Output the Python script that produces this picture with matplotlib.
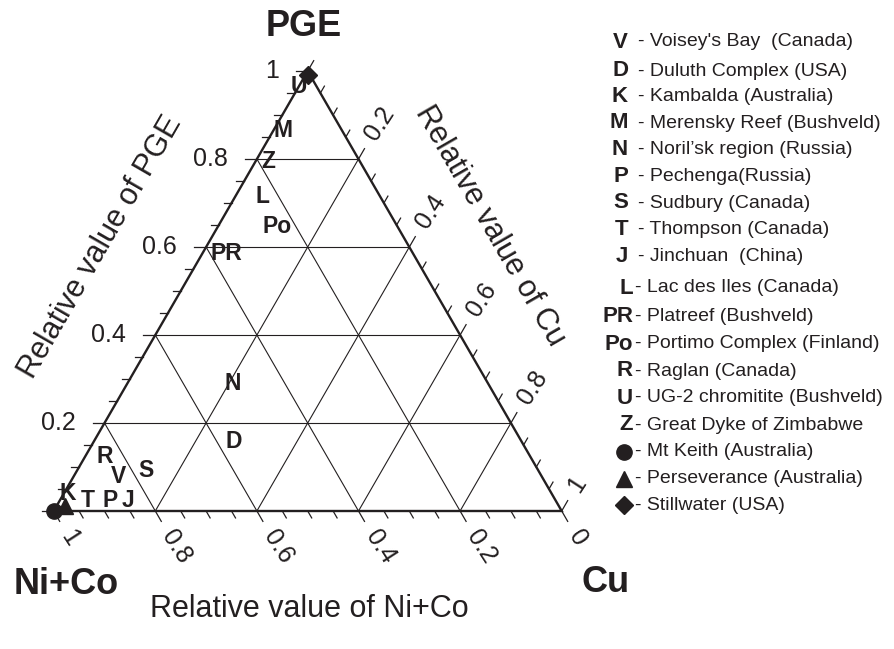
import numpy as np
import matplotlib
matplotlib.use("Agg")
import matplotlib.pyplot as plt

plt.rcParams['font.family'] = ['Liberation Sans', 'DejaVu Sans']

# ---------------- data (ternary: Cu, PGE; Ni+Co = 1 - Cu - PGE) ----------------
letters = ["U", "M", "Z", "L", "Po", "PR", "N", "D", "R", "V", "S", "K", "T", "P", "J"]
letter_cu = [0.000, 0.018, 0.024, 0.054, 0.116, 0.047, 0.207, 0.275, 0.039, 0.088, 0.136, 0.008, 0.054, 0.098, 0.134]
letter_pge = [0.964, 0.866, 0.795, 0.716, 0.646, 0.586, 0.290, 0.159, 0.123, 0.078, 0.093, 0.039, 0.025, 0.025, 0.025]

marker_names = ["Mt Keith", "Perseverance", "Stillwater"]
marker_symbols = ["o", "^", "D"]
marker_cu = [0.000, 0.017, 0.005]
marker_pge = [0.000, 0.011, 0.990]

legend_keys = ["V", "D", "K", "M", "N", "P", "S", "T", "J",
               "L", "PR", "Po", "R", "U", "Z", "o", "^", "D"]
legend_texts = ["- Voisey's Bay  (Canada)", "- Duluth Complex (USA)", "- Kambalda (Australia)",
                "- Merensky Reef (Bushveld)", "- Noril\u2019sk region (Russia)", "- Pechenga(Russia)",
                "- Sudbury (Canada)", "- Thompson (Canada)", "- Jinchuan  (China)",
                "- Lac des Iles (Canada)", "- Platreef (Bushveld)", "- Portimo Complex (Finland)",
                "- Raglan (Canada)", "- UG-2 chromitite (Bushveld)", "- Great Dyke of Zimbabwe",
                "- Mt Keith (Australia)", "- Perseverance (Australia)", "- Stillwater (USA)"]

grid_values = [0.2, 0.4, 0.6, 0.8]
tick_values = np.round(np.arange(0, 1.0001, 0.05), 2)
major_labels = [0.0, 0.2, 0.4, 0.6, 0.8, 1.0]

# ---------------- geometry ----------------
W, H = 894, 649
S = 508.0              # triangle side in pixels
X0, Y0 = 53.7, 511.0   # Ni+Co vertex in pixels
h = np.sqrt(3) / 2


def tern(cu, pge):
    cu = np.asarray(cu, float)
    pge = np.asarray(pge, float)
    return cu + pge / 2.0, pge * h


fig = plt.figure(figsize=(W / 100, H / 100), dpi=100)
ax = fig.add_axes([0, 0, 1, 1])
ax.set_xlim(-X0 / S, (W - X0) / S)
ax.set_ylim((Y0 - H) / S, Y0 / S)
ax.axis('off')

px = 1.0 / S  # one pixel in data units
col = '#231f20'

# grid lines
for v in grid_values:
    x, y = tern([0, 1 - v], [v, v])          # constant PGE
    ax.plot(x, y, color=col, lw=0.8, zorder=1)
    x, y = tern([v, v], [0, 1 - v])          # constant Cu
    ax.plot(x, y, color=col, lw=0.8, zorder=1)
    x, y = tern([1 - v, 0], [0, 1 - v])      # constant Ni+Co
    ax.plot(x, y, color=col, lw=0.8, zorder=1)

# triangle outline
x, y = tern([0, 1, 0, 0], [0, 0, 1, 0])
ax.plot(x, y, color=col, lw=1.7, zorder=2, solid_joinstyle='miter')

# ticks
minor_len, major_len = 8 * px, 12 * px
d_bottom = np.array([0.5, -h])
d_left = np.array([-1.0, 0.0])
d_right = np.array([0.5, h])
for t in tick_values:
    L = major_len if np.isclose(t * 5, round(t * 5)) else minor_len
    bx, by = tern(1 - t, 0)
    ax.plot([bx, bx + d_bottom[0] * L], [by, by + d_bottom[1] * L], color=col, lw=0.9, zorder=2)
    lx, ly = tern(0, t)
    ax.plot([lx, lx + d_left[0] * L], [ly, ly + d_left[1] * L], color=col, lw=0.9, zorder=2)
    rx, ry = tern(t, 1 - t)
    ax.plot([rx, rx + d_right[0] * L], [ry, ry + d_right[1] * L], color=col, lw=0.9, zorder=2)


def fmt(v):
    return "0" if v == 0 else ("1" if v == 1 else f"{v:.1f}")


tick_fs = 18
for v in major_labels:
    if v > 0:
        lx, ly = tern(0, v)
        ax.text(lx - 29 * px, ly, fmt(v), ha='right', va='center', fontsize=tick_fs, color=col)
    bx, by = tern(1 - v, 0)
    d = 24 * px
    ax.text(bx + d_bottom[0] * d, by + d_bottom[1] * d, fmt(v), rotation=-57,
            rotation_mode='anchor', ha='left', va='center', fontsize=tick_fs, color=col)
    if v > 0:
        rx, ry = tern(v, 1 - v)
        ax.text(rx + d_right[0] * d, ry + d_right[1] * d, fmt(v), rotation=57,
                rotation_mode='anchor', ha='left', va='center', fontsize=tick_fs, color=col)

# axis titles
fig.text(100 / W, 1 - 247 / H, "Relative value of PGE", rotation=60, ha='center', va='center',
         fontsize=22, color=col)
fig.text(490 / W, 1 - 226 / H, "Relative value of Cu", rotation=-60, ha='center', va='center',
         fontsize=22, color=col)
fig.text(309 / W, 1 - 609 / H, "Relative value of Ni+Co", ha='center', va='center',
         fontsize=22, color=col)

# vertex labels
fig.text(304 / W, 1 - 27 / H, "PGE", ha='center', va='center', fontsize=26, fontweight='bold', color=col)
fig.text(66 / W, 1 - 585 / H, "Ni+Co", ha='center', va='center', fontsize=26, fontweight='bold', color=col)
fig.text(606 / W, 1 - 583 / H, "Cu", ha='center', va='center', fontsize=26, fontweight='bold', color=col)

# data markers
msizes = {"o": 11, "^": 11, "D": 9}
for m, cu, pge in zip(marker_symbols, marker_cu, marker_pge):
    x, y = tern(cu, pge)
    ax.plot([x], [y], marker=m, ms=msizes[m], color=col, ls='none', zorder=3, clip_on=False)

# data letters
for name, cu, pge in zip(letters, letter_cu, letter_pge):
    x, y = tern(cu, pge)
    ax.text(x, y, name, ha='center', va='center', fontsize=16.5, fontweight='bold', color=col, zorder=4)

# legend
row_y = [42, 71, 96.5, 123, 149.5, 176.5, 203, 229.5, 256.5,
         288, 316.5, 344, 371, 398, 425, 452, 478.5, 505]
for i, (key, txt) in enumerate(zip(legend_keys, legend_texts)):
    yy = 1 - row_y[i] / H
    if i < 9:
        kx, tx = 628, 638
    else:
        kx, tx = 633, 635
    if i >= 15:
        ax.plot([624 / W], [yy], marker=key, ms=msizes[key], color=col, ls='none',
                transform=fig.transFigure, clip_on=False)
    else:
        fig.text(kx / W, yy, key, ha='right', va='center', fontsize=16, fontweight='bold', color=col)
    fig.text(tx / W, yy, txt, ha='left', va='center', fontsize=14, color=col)

fig.savefig("out.png", dpi=100)
